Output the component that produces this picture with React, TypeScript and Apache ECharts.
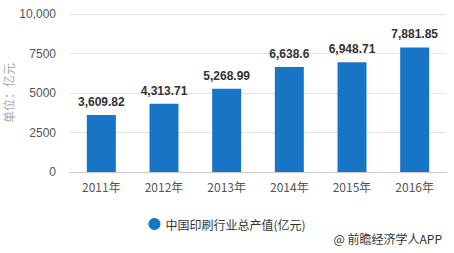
import React, { useEffect, useRef } from "react";
import * as echarts from "echarts";

const categories = ["2011年", "2012年", "2013年", "2014年", "2015年", "2016年"];
const values = [3609.82, 4313.71, 5268.99, 6638.6, 6948.71, 7881.85];
const seriesName = "中国印刷行业总产值(亿元)";
const yTicks = [0, 2500, 5000, 7500, 10000];

function fmt(v: number): string {
  const parts = String(v).split(".");
  parts[0] = parts[0].replace(/\B(?=(\d{3})+(?!\d))/g, ",");
  return parts.join(".");
}

export default function App() {
  const ref = useRef<HTMLDivElement>(null);
  useEffect(() => {
    if (!ref.current) return;
    const chart = echarts.init(ref.current, undefined, { renderer: "svg" });
    chart.setOption({
      animation: false,
      backgroundColor: "#ffffff",
      textStyle: { fontFamily: "'Liberation Sans', 'Noto Sans CJK SC', sans-serif" },
      grid: {
        left: 70,
        right: 8,
        top: 14,
        bottom: 81,
        containLabel: false,
        outerBoundsMode: "none",
      },
      legend: {
        data: [seriesName],
        left: "center",
        top: 213,
        icon: "circle",
        itemWidth: 12,
        itemHeight: 12,
        itemGap: 6,
        textStyle: {
          color: "#333",
          fontSize: 12,
          fontFamily: "'Noto Sans CJK SC', sans-serif",
        },
      },
      graphic: [
        {
          type: "text",
          right: 12,
          top: 232,
          style: {
            text: "@ 前瞻经济学人APP",
            fill: "#333",
            fontSize: 12,
            fontFamily: "'Noto Sans CJK SC', sans-serif",
          },
        },
      ],
      xAxis: {
        type: "category",
        data: categories,
        axisLine: { lineStyle: { color: "#cccccc" } },
        axisTick: { alignWithLabel: true, lineStyle: { color: "#cccccc" } },
        axisLabel: {
          color: "#555",
          fontSize: 12,
          margin: 8,
          fontFamily: "'Noto Sans CJK SC', sans-serif",
        },
      },
      yAxis: {
        type: "value",
        min: 0,
        max: 10000,
        interval: 2500,
        name: "单位：亿元",
        nameLocation: "middle",
        nameGap: 56,
        nameMoveOverlap: false,
        nameRotate: 90,
        nameTextStyle: {
          color: "#aaa",
          fontSize: 12,
          fontFamily: "'Noto Sans CJK SC', sans-serif",
        },
        axisLine: { show: false },
        axisTick: { show: false },
        axisLabel: {
          color: "#555",
          fontSize: 12,
          margin: 14,
          formatter: (v: number) => (yTicks.includes(v) && v >= 10000 ? fmt(v) : String(v)),
        },
        splitLine: { lineStyle: { color: "#e3e3e3" } },
      },
      series: [
        {
          name: seriesName,
          type: "bar",
          data: values,
          barWidth: 29,
          itemStyle: { color: "#1874c4" },
          label: {
            show: true,
            position: "top",
            distance: 7,
            color: "#333",
            fontSize: 12,
            fontWeight: "bold",
            formatter: (p: any) => fmt(p.value),
          },
        },
      ],
    });
    return () => chart.dispose();
  }, []);
  return (
    <div
      ref={ref}
      style={{ position: "fixed", left: 0, top: 0, width: 454, height: 253 }}
    />
  );
}
